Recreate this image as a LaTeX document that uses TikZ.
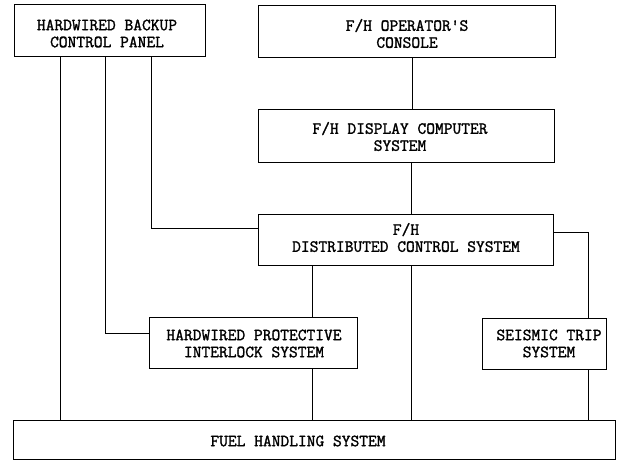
\documentclass[tikz,border=0pt]{standalone}
\usepackage{fontspec}
\newfontfamily\twfont{Latin Modern Mono}[FakeBold=1.6]
\begin{document}
\begin{tikzpicture}[x=1pt,y=-1pt,
  box/.style={draw, line width=1pt, rectangle, inner sep=0pt},
  lbl/.style={font=\twfont\bfseries\fontsize{17}{17}\selectfont, align=center, inner sep=0pt},
  wire/.style={line width=1pt}]
\useasboundingbox (0,0) rectangle (619,460);
% boxes
\node[box, minimum width=191pt, minimum height=52pt] (A) at (109.5,31) {};
\node[box, minimum width=297pt, minimum height=52pt] (B) at (406.5,32) {};
\node[box, minimum width=296pt, minimum height=52pt] (C) at (406,136) {};
\node[box, minimum width=295pt, minimum height=51pt] (D) at (405.5,239.5) {};
\node[box, minimum width=208pt, minimum height=51pt] (E) at (253,342.5) {};
\node[box, minimum width=124pt, minimum height=51pt] (F) at (544,343.5) {};
\node[box, minimum width=602pt, minimum height=39pt] (G) at (314,439.5) {};
% labels
\node[lbl] (At) at (107,33.5) {HARDWIRED BACKUP\\CONTROL PANEL};
\node[lbl] (Bt) at (407,33.5) {F/H OPERATOR'S\\CONSOLE};
\node[lbl] (Ct) at (400,136.5) {F/H DISPLAY COMPUTER\\SYSTEM};
\node[lbl] (Dt) at (406,237.5) {F/H\\DISTRIBUTED CONTROL SYSTEM};
\node[lbl] (Et) at (254,343.5) {HARDWIRED PROTECTIVE\\INTERLOCK SYSTEM};
\node[lbl] (Ft) at (549,343.5) {SEISMIC TRIP\\SYSTEM};
\node[lbl] (Gt) at (298,441) {FUEL HANDLING SYSTEM};
% connector coordinates
\coordinate (c60) at (60,0);
\coordinate (e1) at (105,333);
\coordinate (d1) at (151,228);
\coordinate (c412) at (412,0);
\coordinate (c411) at (411,0);
\coordinate (c312) at (312,0);
\coordinate (s1) at (588,232);
% connectors
\draw[wire] (A.south -| c60) -- (G.north -| c60);
\draw[wire] (A.south -| e1) -- (e1) -- (E.west |- e1);
\draw[wire] (A.south -| d1) -- (d1) -- (D.west |- d1);
\draw[wire] (B.south -| c412) -- (C.north -| c412);
\draw[wire] (C.south -| c411) -- (D.north -| c411);
\draw[wire] (D.south -| c312) -- (E.north -| c312);
\draw[wire] (E.south -| c312) -- (G.north -| c312);
\draw[wire] (D.south -| c411) -- (G.north -| c411);
\draw[wire] (D.east |- s1) -- (s1) -- (F.north -| s1);
\draw[wire] (F.south -| s1) -- (G.north -| s1);
\end{tikzpicture}
\end{document}
